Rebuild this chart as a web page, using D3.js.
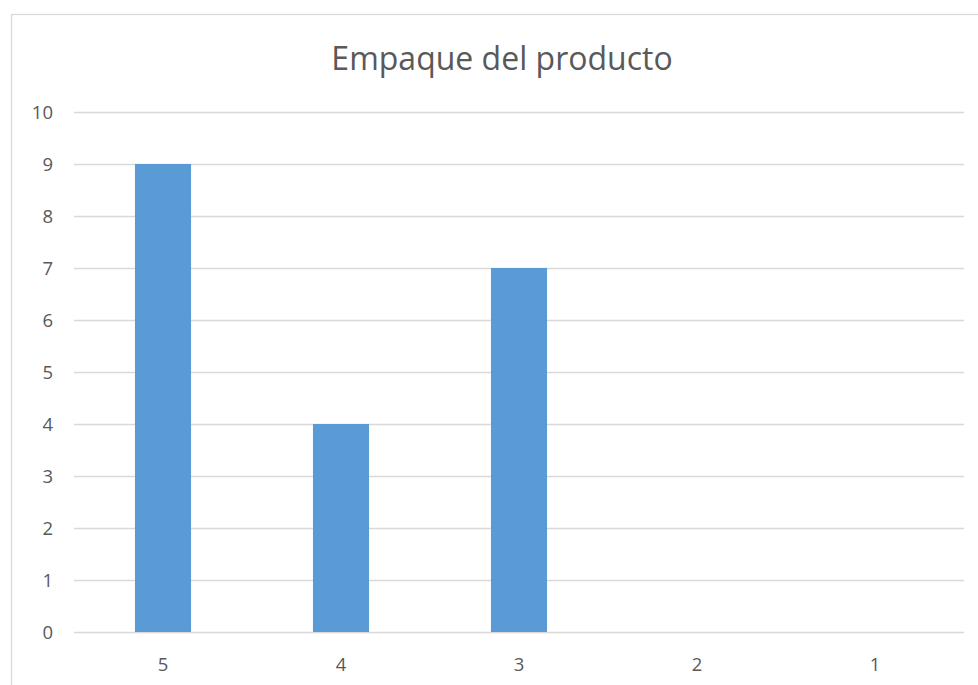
<!DOCTYPE html>
<html>
<head>
<meta charset="utf-8">
<script src="https://cdn.jsdelivr.net/npm/d3@7"></script>
<style>
  body { margin: 0; background: #fff; }
  text { font-family: "Open Sans", "Liberation Sans", sans-serif; fill: #595959; }
</style>
</head>
<body>
<div id="chart"></div>
<script>
// Chart data
const categories = ["5", "4", "3", "2", "1"];
const values = [9, 4, 7, 0, 0];
const yTicks = [0, 1, 2, 3, 4, 5, 6, 7, 8, 9, 10];
const chartTitle = "Empaque del producto";

// Layout
const W = 978, H = 685;
const PLOT = { LEFT: 74, RIGHT: 964, TOP: 112, BOTTOM: 632 };

const svg = d3.select("#chart")
  .append("svg")
  .attr("width", W)
  .attr("height", H);

// Chart frame
svg.append("rect")
  .attr("x", 11.5)
  .attr("y", 14.5)
  .attr("width", 1000)
  .attr("height", 1000)
  .attr("fill", "none")
  .attr("stroke", "#d9d9d9")
  .attr("stroke-width", 1.3);

// Scales
const x = d3.scaleBand()
  .domain(categories)
  .range([PLOT.LEFT, PLOT.RIGHT])
  .paddingInner(0.685)
  .paddingOuter(0.3425);

const y = d3.scaleLinear()
  .domain([0, 10])
  .range([PLOT.BOTTOM, PLOT.TOP]);

// Gridlines
svg.append("g")
  .selectAll("line")
  .data(yTicks)
  .join("line")
  .attr("x1", PLOT.LEFT)
  .attr("x2", PLOT.RIGHT)
  .attr("y1", d => y(d) + 0.5)
  .attr("y2", d => y(d) + 0.5)
  .attr("stroke", "#d9d9d9")
  .attr("stroke-width", 1.3);

// Y labels
svg.append("g")
  .selectAll("text")
  .data(yTicks)
  .join("text")
  .attr("x", 53)
  .attr("y", d => y(d))
  .attr("dy", "0.36em")
  .attr("text-anchor", "end")
  .style("font-size", "18.5px")
  .text(d => d);

// Bars
svg.append("g")
  .selectAll("rect")
  .data(values)
  .join("rect")
  .attr("x", (d, i) => x(categories[i]))
  .attr("y", d => y(d))
  .attr("width", x.bandwidth())
  .attr("height", d => y(0) - y(d))
  .attr("fill", "#5b9bd5");

// X labels
svg.append("g")
  .selectAll("text")
  .data(categories)
  .join("text")
  .attr("x", d => x(d) + x.bandwidth() / 2)
  .attr("y", 671)
  .attr("text-anchor", "middle")
  .style("font-size", "18.5px")
  .text(d => d);

// Title
svg.append("text")
  .attr("x", 502)
  .attr("y", 70)
  .attr("text-anchor", "middle")
  .style("font-size", "32px")
  .text(chartTitle);
</script>
</body>
</html>
